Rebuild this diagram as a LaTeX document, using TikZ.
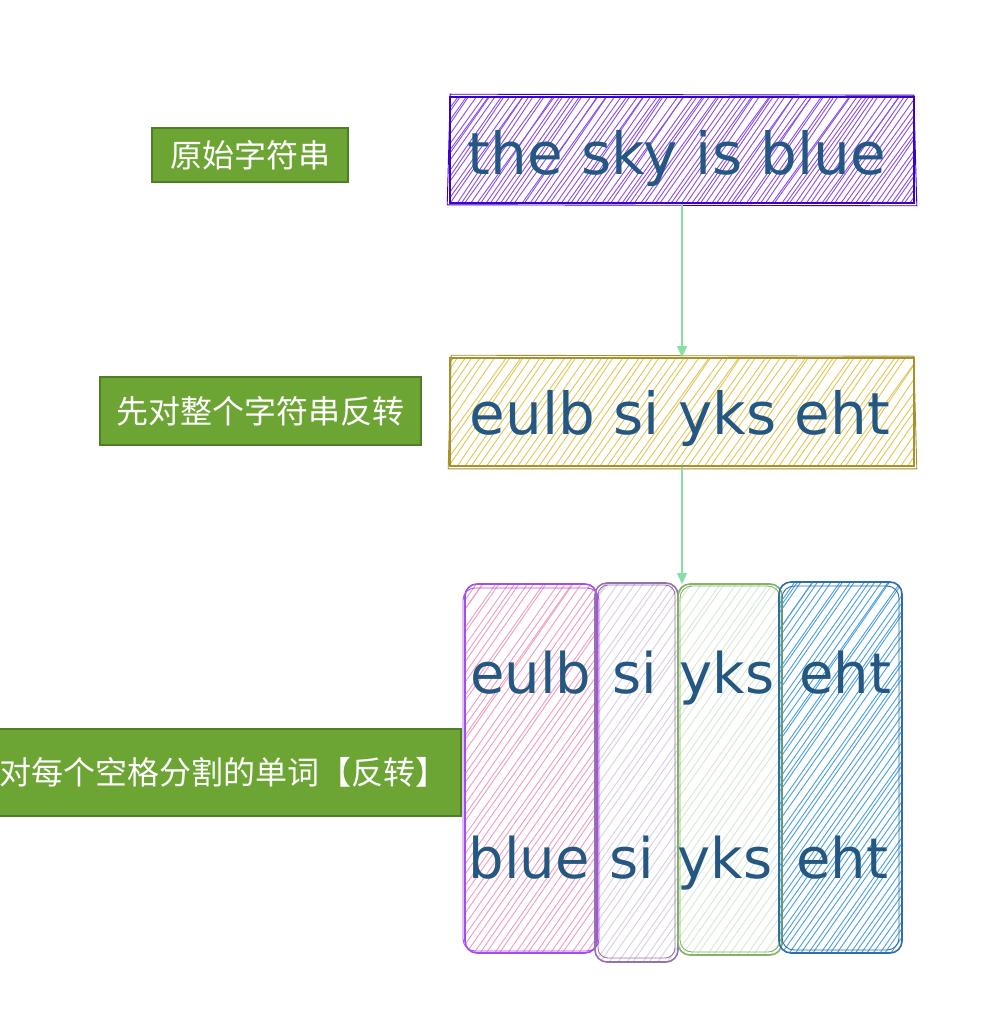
\documentclass[tikz,border=0pt]{standalone}
\usepackage{fontspec}
\setmainfont{DejaVu Sans}
\newfontfamily\cjk{Noto Sans CJK SC}
\usetikzlibrary{arrows.meta,calc}
\definecolor{txt}{HTML}{245781}
\definecolor{tagfill}{HTML}{6DA534}
\definecolor{tagline}{HTML}{4E7F26}
\definecolor{arrowc}{HTML}{86DFA4}
\definecolor{aline}{HTML}{3A00CC}
\definecolor{ahatch}{HTML}{8A4DEE}
\definecolor{bline}{HTML}{A8902A}
\definecolor{bhatch}{HTML}{E2C655}
\definecolor{pline}{HTML}{A64DF0}
\definecolor{phatch}{HTML}{F19DC0}
\definecolor{lline}{HTML}{9673A6}
\definecolor{lhatch}{HTML}{D9CCE6}
\definecolor{gline}{HTML}{82B366}
\definecolor{ghatch}{HTML}{D5E8D4}
\definecolor{uline}{HTML}{2F6EAA}
\definecolor{uhatch}{HTML}{4A9EE8}
\newcommand\hatchfill[7]{%
 \begin{scope}
 \clip[#1] (#2,#3) rectangle (#4,#5);
 \pgfmathsetmacro\hh{#5-#3}
 \pgfmathsetmacro\hdx{0.7*\hh}
 \pgfmathsetmacro\hs{#2-\hdx}
 \pgfmathsetmacro\hn{\hs+#6}
 \foreach \xx in {\hs,\hn,...,#4}{\draw[#7,line width=0.9] ({\xx+1.5*rand},#5) -- ++({\hdx+3*rand},-\hh);}
 \end{scope}}
\begin{document}
\begin{tikzpicture}[x=1pt,y=-1pt,
  word/.style={font=\fontsize{58}{58}\selectfont, text=txt, inner sep=0, anchor=base},
  colword/.style={word, font=\fontsize{56}{56}\selectfont},
  tag/.style={fill=tagfill, draw=tagline, line width=1.5, text=white, font=\cjk\fontsize{32}{32}\selectfont, inner sep=0},
  arrow/.style={draw=arrowc, line width=1.3, -{Triangle[width=10,length=11]}},
  bigbox/.style={minimum width=464, minimum height=106, line width=1.6, inner sep=0},
  colbox/.style={rounded corners=12, line width=1.6, inner sep=0}]
\pgfmathsetseed{7}
\useasboundingbox (0,0) rectangle (1002,1016);
% hatching
\hatchfill{}{450}{97}{914}{203}{5}{ahatch}
\hatchfill{}{450}{358}{914}{466}{7.5}{bhatch}
\hatchfill{rounded corners=12}{465}{584}{597}{953}{7}{phatch}
\hatchfill{rounded corners=12}{595}{583}{678}{962}{8}{lhatch}
\hatchfill{rounded corners=12}{678}{584}{782}{955}{8}{ghatch}
\hatchfill{rounded corners=12}{779}{582}{902}{953}{6}{uhatch}
% boxes
\node[bigbox, draw=aline] (box1) at (682,150) {};
\draw[aline, line width=0.9] ([shift={(1,-2)}]box1.north west) -- ([shift={(-1,-1)}]box1.north east) -- ([shift={(2,2)}]box1.south east) -- ([shift={(-2,1)}]box1.south west) -- cycle;
\node[bigbox, draw=bline, minimum height=108] (box2) at (682,412) {};
\draw[bline, line width=0.9] ([shift={(2,-2)}]box2.north west) -- ([shift={(-1,-1)}]box2.north east) -- ([shift={(2,2)}]box2.south east) -- ([shift={(-1,2)}]box2.south west) -- cycle;
\node[colbox, draw=pline, minimum width=132, minimum height=369] (c1) at (531,768.5) {};
\draw[pline, line width=0.9, rounded corners=12] (463,588) rectangle (599,951);
\node[colbox, draw=lline, minimum width=83, minimum height=379] (c2) at (636.5,772.5) {};
\draw[lline, line width=0.9, rounded corners=10] (598,585) rectangle (675,958);
\node[colbox, draw=gline, minimum width=104, minimum height=371] (c3) at (730,769.5) {};
\draw[gline, line width=0.9, rounded corners=12] (680,586) rectangle (780,952);
\node[colbox, draw=uline, minimum width=123, minimum height=371] (c4) at (840.5,767.5) {};
\draw[uline, line width=0.9, rounded corners=12] (782,586) rectangle (899,950);
% texts
\node[word] (t1) at (677,175) {the sky is blue};
\node[word] (t2) at (680,434) {eulb si yks eht};
\node[colword] (w1) at (531,693) {eulb};
\node[colword] (w2) at (635,693) {si};
\node[colword] (w3) at (727,693) {yks};
\node[colword] (w4) at (845,693) {eht};
\node[colword] (w5) at (529,878) {blue};
\node[colword] (w6) at (632,878) {si};
\node[colword] (w7) at (725,878) {yks};
\node[colword] (w8) at (842,878) {eht};
% labels
\node[tag, minimum width=196, minimum height=54] (L1) at (250,155) {原始字符串};
\node[tag, minimum width=321, minimum height=68] (L2) at (260.5,411) {先对整个字符串反转};
\node[tag, minimum width=476, minimum height=87] (L3) at (223,772.5) {对每个空格分割的单词【反转】};
% arrows
\coordinate (colsTop) at (682,584);
\draw[arrow] (box1.south) -- (box2.north);
\draw[arrow] (box2.south) -- (colsTop);
\end{tikzpicture}
\end{document}
